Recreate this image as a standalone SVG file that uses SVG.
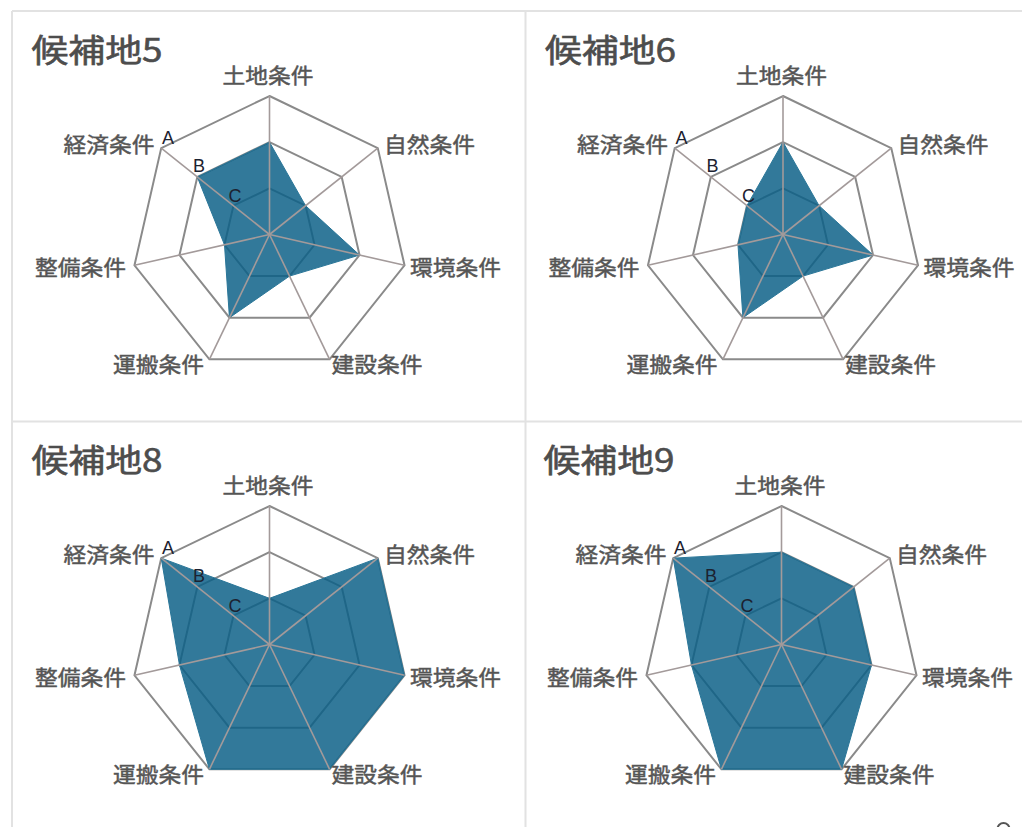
<svg xmlns="http://www.w3.org/2000/svg" xmlns:xlink="http://www.w3.org/1999/xlink" width="1022" height="827" viewBox="0 0 1022 827">
<style>
.frame{stroke:#e2e2e2;stroke-width:2;fill:none}
.ring{fill:none;stroke:#8a8a8a;stroke-width:2;stroke-linejoin:miter}
.axis{stroke:#a39a9a;stroke-width:1.6}
.area{fill:#0b5f87;fill-opacity:0.84;stroke:#2a7698;stroke-width:1}
.title{font-family:"Noto Sans CJK JP","Noto Sans",sans-serif;font-size:32px;fill:#4d4d4d;stroke:#4d4d4d;stroke-width:0.6}
.lbl{font-family:"Noto Sans CJK JP","Noto Sans",sans-serif;font-size:21px;fill:#555555;stroke:#555555;stroke-width:0.45}
.abc{font-family:"Liberation Sans",Arial,sans-serif;font-size:18px;fill:#1c2230;text-anchor:middle}
</style>
<defs>
<g id="rings">
<polygon class="ring" points="0,-138.5 108.28,-86.35 135.03,30.82 60.09,124.78 -60.09,124.78 -135.03,30.82 -108.28,-86.35"/>
<polygon class="ring" points="0,-92.33 72.19,-57.57 90.02,20.55 40.06,83.19 -40.06,83.19 -90.02,20.55 -72.19,-57.57"/>
<polygon class="ring" points="0,-46.17 36.09,-28.78 45.01,10.27 20.03,41.6 -20.03,41.6 -45.01,10.27 -36.09,-28.78"/>
</g>
<g id="axes">
<line class="axis" x1="0" y1="0" x2="0" y2="-138.5"/>
<line class="axis" x1="0" y1="0" x2="108.28" y2="-86.35"/>
<line class="axis" x1="0" y1="0" x2="135.03" y2="30.82"/>
<line class="axis" x1="0" y1="0" x2="60.09" y2="124.78"/>
<line class="axis" x1="0" y1="0" x2="-60.09" y2="124.78"/>
<line class="axis" x1="0" y1="0" x2="-135.03" y2="30.82"/>
<line class="axis" x1="0" y1="0" x2="-108.28" y2="-86.35"/>
</g>
</defs>

<g id="frames">
<path class="frame" d="M12 11 H1022 M12 11 V827 M525.5 11 V827 M12 421.5 H1022"/>
</g>

<g id="panel-5" transform="translate(269.5,234.5)">
<text class="title" x="-238" y="-172.5" textLength="131" lengthAdjust="spacingAndGlyphs">候補地5</text>
<use href="#rings" xlink:href="#rings"/>
<polygon class="area" points="0,-92.33 36.09,-28.78 90.02,20.55 20.03,41.6 -40.06,83.19 -45.01,10.27 -72.19,-57.57"/>
<use href="#axes" xlink:href="#axes"/>
<text class="lbl" x="-47" y="-151.5" textLength="91" lengthAdjust="spacingAndGlyphs">土地条件</text>
<text class="lbl" x="114.5" y="-82.5" textLength="91" lengthAdjust="spacingAndGlyphs">自然条件</text>
<text class="lbl" x="140.5" y="40.5" textLength="91" lengthAdjust="spacingAndGlyphs">環境条件</text>
<text class="lbl" x="62" y="137.5" textLength="91" lengthAdjust="spacingAndGlyphs">建設条件</text>
<text class="lbl" x="-156.5" y="137.5" textLength="91" lengthAdjust="spacingAndGlyphs">運搬条件</text>
<text class="lbl" x="-234.5" y="40.5" textLength="91" lengthAdjust="spacingAndGlyphs">整備条件</text>
<text class="lbl" x="-206" y="-82.5" textLength="91" lengthAdjust="spacingAndGlyphs">経済条件</text>
<text class="abc" x="-101.5" y="-91">A</text>
<text class="abc" x="-70.5" y="-63">B</text>
<text class="abc" x="-34.5" y="-33">C</text>
</g>

<g id="panel-6" transform="translate(783,234.5)">
<text class="title" x="-238" y="-172.5" textLength="131" lengthAdjust="spacingAndGlyphs">候補地6</text>
<use href="#rings" xlink:href="#rings"/>
<polygon class="area" points="0,-92.33 36.09,-28.78 90.02,20.55 20.03,41.6 -40.06,83.19 -45.01,10.27 -36.09,-28.78"/>
<use href="#axes" xlink:href="#axes"/>
<text class="lbl" x="-47" y="-151.5" textLength="91" lengthAdjust="spacingAndGlyphs">土地条件</text>
<text class="lbl" x="114.5" y="-82.5" textLength="91" lengthAdjust="spacingAndGlyphs">自然条件</text>
<text class="lbl" x="140.5" y="40.5" textLength="91" lengthAdjust="spacingAndGlyphs">環境条件</text>
<text class="lbl" x="62" y="137.5" textLength="91" lengthAdjust="spacingAndGlyphs">建設条件</text>
<text class="lbl" x="-156.5" y="137.5" textLength="91" lengthAdjust="spacingAndGlyphs">運搬条件</text>
<text class="lbl" x="-234.5" y="40.5" textLength="91" lengthAdjust="spacingAndGlyphs">整備条件</text>
<text class="lbl" x="-206" y="-82.5" textLength="91" lengthAdjust="spacingAndGlyphs">経済条件</text>
<text class="abc" x="-101.5" y="-91">A</text>
<text class="abc" x="-70.5" y="-63">B</text>
<text class="abc" x="-34.5" y="-33">C</text>
</g>

<g id="panel-8" transform="translate(269.5,644.5)">
<text class="title" x="-238" y="-172.5" textLength="131" lengthAdjust="spacingAndGlyphs">候補地8</text>
<use href="#rings" xlink:href="#rings"/>
<polygon class="area" points="0,-46.17 108.28,-86.35 135.03,30.82 60.09,124.78 -60.09,124.78 -90.02,20.55 -108.28,-86.35"/>
<use href="#axes" xlink:href="#axes"/>
<text class="lbl" x="-47" y="-151.5" textLength="91" lengthAdjust="spacingAndGlyphs">土地条件</text>
<text class="lbl" x="114.5" y="-82.5" textLength="91" lengthAdjust="spacingAndGlyphs">自然条件</text>
<text class="lbl" x="140.5" y="40.5" textLength="91" lengthAdjust="spacingAndGlyphs">環境条件</text>
<text class="lbl" x="62" y="137.5" textLength="91" lengthAdjust="spacingAndGlyphs">建設条件</text>
<text class="lbl" x="-156.5" y="137.5" textLength="91" lengthAdjust="spacingAndGlyphs">運搬条件</text>
<text class="lbl" x="-234.5" y="40.5" textLength="91" lengthAdjust="spacingAndGlyphs">整備条件</text>
<text class="lbl" x="-206" y="-82.5" textLength="91" lengthAdjust="spacingAndGlyphs">経済条件</text>
<text class="abc" x="-101.5" y="-91">A</text>
<text class="abc" x="-70.5" y="-63">B</text>
<text class="abc" x="-34.5" y="-33">C</text>
</g>

<g id="panel-9" transform="translate(781.5,644.5)">
<text class="title" x="-238" y="-172.5" textLength="131" lengthAdjust="spacingAndGlyphs">候補地9</text>
<use href="#rings" xlink:href="#rings"/>
<polygon class="area" points="0,-92.33 72.19,-57.57 90.02,20.55 60.09,124.78 -60.09,124.78 -90.02,20.55 -108.28,-86.35"/>
<use href="#axes" xlink:href="#axes"/>
<text class="lbl" x="-47" y="-151.5" textLength="91" lengthAdjust="spacingAndGlyphs">土地条件</text>
<text class="lbl" x="114.5" y="-82.5" textLength="91" lengthAdjust="spacingAndGlyphs">自然条件</text>
<text class="lbl" x="140.5" y="40.5" textLength="91" lengthAdjust="spacingAndGlyphs">環境条件</text>
<text class="lbl" x="62" y="137.5" textLength="91" lengthAdjust="spacingAndGlyphs">建設条件</text>
<text class="lbl" x="-156.5" y="137.5" textLength="91" lengthAdjust="spacingAndGlyphs">運搬条件</text>
<text class="lbl" x="-234.5" y="40.5" textLength="91" lengthAdjust="spacingAndGlyphs">整備条件</text>
<text class="lbl" x="-206" y="-82.5" textLength="91" lengthAdjust="spacingAndGlyphs">経済条件</text>
<text class="abc" x="-101.5" y="-91">A</text>
<text class="abc" x="-70.5" y="-63">B</text>
<text class="abc" x="-34.5" y="-33">C</text>
</g>

<g id="corner-mark">
<path d="M997.5 829 A6 6 0 0 1 1009.5 829" fill="none" stroke="#555555" stroke-width="2"/>
</g>
</svg>
